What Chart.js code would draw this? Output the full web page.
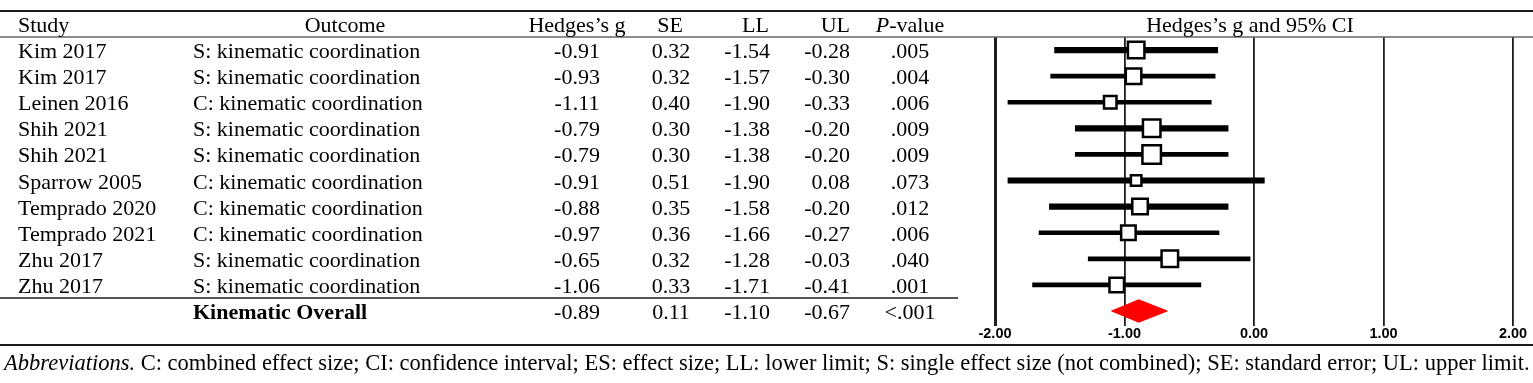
<!DOCTYPE html>
<html><head><meta charset="utf-8">
<script src="https://cdn.jsdelivr.net/npm/chart.js@4/dist/chart.umd.min.js"></script>
<style>html,body{margin:0;padding:0;background:#fff;overflow:hidden}canvas{display:block}</style>
</head><body>
<canvas id="c" width="1533" height="383"></canvas>
<script>
// ---------- data ----------
const studies  = ['Kim 2017','Kim 2017','Leinen 2016','Shih 2021','Shih 2021','Sparrow 2005','Temprado 2020','Temprado 2021','Zhu 2017','Zhu 2017'];
const outcomes = ['S: kinematic coordination','S: kinematic coordination','C: kinematic coordination','S: kinematic coordination','S: kinematic coordination','C: kinematic coordination','C: kinematic coordination','C: kinematic coordination','S: kinematic coordination','S: kinematic coordination'];
const hedgesG  = [-0.91,-0.93,-1.11,-0.79,-0.79,-0.91,-0.88,-0.97,-0.65,-1.06];
const stdErr   = [0.32,0.32,0.40,0.30,0.30,0.51,0.35,0.36,0.32,0.33];
const lowerLim = [-1.54,-1.57,-1.90,-1.38,-1.38,-1.90,-1.58,-1.66,-1.28,-1.71];
const upperLim = [-0.28,-0.30,-0.33,-0.20,-0.20,0.08,-0.20,-0.27,-0.03,-0.41];
const pValues  = ['.005','.004','.006','.009','.009','.073','.012','.006','.040','.001'];
const overallLabel = 'Kinematic Overall';
const overallG  = -0.89;
const overallSE = 0.11;
const overallLL = -1.10;
const overallUL = -0.67;
const overallP  = '<.001';
const xTickValues = [-2, -1, 0, 1, 2];
const headers = ['Study','Outcome','Hedges\u2019s g','SE','LL','UL','P-value'];
const plotTitle = 'Hedges\u2019s g and 95% CI';
const caption = 'C: combined effect size; CI: confidence interval; ES: effect size; LL: lower limit; S: single effect size (not combined); SE: standard error; UL: upper limit.';

// ---------- styles (kept apart from data) ----------
const markerSide = [19,18,15,20,21,13,18,17,19,17];   // outer square side in px
const thickRows  = [true,false,false,true,false,true,true,false,false,false];
const diamondHalf = 0.43;

const thickData = [], thinData = [], pts = [];
hedgesG.forEach((g, i) => {
  (thickRows[i] ? thickData : thinData).push({x: [lowerLim[i], upperLim[i]], y: i});
  pts.push({x: g, y: i});
});
const nRow = studies.length;
const diamond = [
  {x: overallLL, y: nRow}, {x: overallG, y: nRow - diamondHalf},
  {x: overallUL, y: nRow}, {x: overallG, y: nRow + diamondHalf},
  {x: overallLL, y: nRow}
];

const SERIF = '"Liberation Serif","Times New Roman",serif';
const FS = 22;

const tablePlugin = {
  id: 'tablePlugin',
  afterDraw(chart) {
    const ctx = chart.ctx, ys = chart.scales.y, area = chart.chartArea, W = chart.width;
    ctx.save();
    const font = (st, sz) => (st ? st + ' ' : '') + (sz || FS) + 'px ' + SERIF;
    const txt = (s, x, y, align, st, sz) => {
      ctx.font = font(st, sz); ctx.textAlign = align; ctx.textBaseline = 'alphabetic';
      ctx.fillStyle = '#000'; ctx.fillText(s, x, y);
    };
    const rule = (x0, x1, y, w, c) => {
      ctx.beginPath(); ctx.moveTo(x0, y); ctx.lineTo(x1, y);
      ctx.lineWidth = w; ctx.strokeStyle = c; ctx.stroke();
    };
    // rules
    rule(0, W, 11, 2, '#1a1a1a');
    rule(0, W, area.top, 1.5, '#666');
    rule(0, 958, ys.getPixelForValue(nRow - 0.5), 2, '#555');
    rule(0, W, 345, 2, '#1a1a1a');

    // header
    const hb = 32;
    txt(headers[0], 18, hb, 'left');
    txt(headers[1], 345, hb, 'center');
    txt(headers[2], 577, hb, 'center');
    txt(headers[3], 670, hb, 'center');
    txt(headers[4], 769, hb, 'right');
    txt(headers[5], 850, hb, 'right');
    // P-value with italic P
    ctx.font = font('italic'); const wP = ctx.measureText('P').width;
    ctx.font = font(); const wR = ctx.measureText('-value').width;
    const px0 = 910 - (wP + wR) / 2;
    txt('P', px0, hb, 'left', 'italic');
    txt('-value', px0 + wP, hb, 'left');
    txt(plotTitle, (area.left + area.right) / 2 - 4, hb, 'center');

    // rows
    for (let i = 0; i < nRow; i++) {
      const b = ys.getPixelForValue(i) + 8;
      txt(studies[i], 18, b, 'left');
      txt(outcomes[i], 193, b, 'left');
      txt(hedgesG[i].toFixed(2), 577, b, 'center');
      txt(stdErr[i].toFixed(2), 671, b, 'center');
      txt(lowerLim[i].toFixed(2), 770, b, 'right');
      txt(upperLim[i].toFixed(2), 850, b, 'right');
      txt(pValues[i], 910, b, 'center');
    }
    const ob = ys.getPixelForValue(nRow) + 8;
    txt(overallLabel, 193, ob, 'left', 'bold');
    txt(overallG.toFixed(2), 577, ob, 'center');
    txt(overallSE.toFixed(2), 671, ob, 'center');
    txt(overallLL.toFixed(2), 770, ob, 'right');
    txt(overallUL.toFixed(2), 850, ob, 'right');
    txt(overallP, 910, ob, 'center');

    // caption
    const CS = 22.5;
    ctx.font = font('italic', CS); const wA = ctx.measureText('Abbreviations.').width;
    txt('Abbreviations.', 4, 370, 'left', 'italic', CS);
    txt(' ' + caption, 4 + wA, 370, 'left', '', CS);
    ctx.restore();
  }
};

new Chart(document.getElementById('c'), {
  type: 'scatter',
  data: {
    datasets: [
      { type: 'scatter', data: pts, order: 0, pointStyle: 'rect',
        pointRadius: markerSide.map(s => (s - 2.5) / Math.SQRT2),
        pointHoverRadius: markerSide.map(s => (s - 2.5) / Math.SQRT2),
        backgroundColor: '#fff', borderColor: '#000', borderWidth: 2.5 },
      { type: 'bar', indexAxis: 'y', data: thickData, order: 1, grouped: false,
        barThickness: 5.5, backgroundColor: '#000', borderWidth: 0 },
      { type: 'bar', indexAxis: 'y', data: thinData, order: 1, grouped: false,
        barThickness: 4, backgroundColor: '#000', borderWidth: 0 },
      { type: 'scatter', data: diamond, order: 1, showLine: true, fill: 'shape',
        backgroundColor: '#ff0000', borderColor: '#ff0000', borderWidth: 1,
        pointRadius: 0, pointHoverRadius: 0 }
    ]
  },
  options: {
    responsive: false, animation: false, devicePixelRatio: 1,
    layout: { padding: { left: 995, right: 20, top: 37, bottom: 40 } },
    plugins: { legend: { display: false }, tooltip: { enabled: false } },
    events: [],
    scales: {
      x: { type: 'linear', min: -2, max: 2,
        afterBuildTicks: (s) => { s.ticks = xTickValues.map(v => ({ value: v })); },
        ticks: { padding: 0, color: '#000', maxRotation: 0,
          font: { family: 'Arial, "Liberation Sans", sans-serif', size: 14.5, weight: 'bold' },
          callback: (v) => Number(v).toFixed(2) },
        grid: { drawTicks: false, color: '#1e1e1e',
          lineWidth: (c) => (c.tick && c.tick.value === -2) ? 3 : 1.8 },
        border: { display: false } },
      y: { type: 'linear', min: -0.5, max: 10.56, reverse: true, display: false, offset: false }
    }
  },
  plugins: [tablePlugin]
});
</script>
</body></html>
